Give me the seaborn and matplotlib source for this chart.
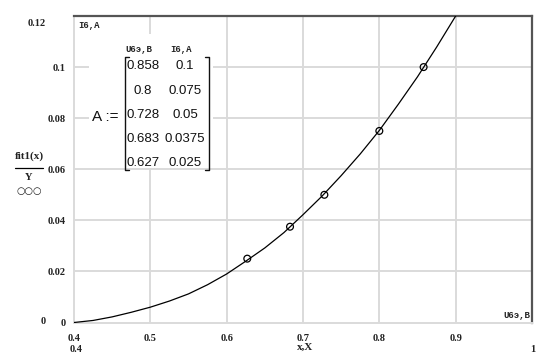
import matplotlib
matplotlib.use("Agg")
import matplotlib.pyplot as plt
import seaborn as sns
import pandas as pd
from matplotlib.patches import Rectangle

# Data points (matrix A)
U_vals = [0.858, 0.8, 0.728, 0.683, 0.627]
I_vals = [0.1, 0.075, 0.05, 0.0375, 0.025]
U_labels = ["0.858", "0.8", "0.728", "0.683", "0.627"]
I_labels = ["0.1", "0.075", "0.05", "0.0375", "0.025"]

# fit curve samples
fit_x = [0.4, 0.425, 0.45, 0.475, 0.5, 0.525, 0.55, 0.575, 0.6, 0.625, 0.65,
         0.675, 0.7, 0.725, 0.75, 0.775, 0.8, 0.825, 0.85, 0.875, 0.9, 0.92]
fit_y = [0.0, 0.0008, 0.0022, 0.0040, 0.0060, 0.0084, 0.0112, 0.0148, 0.0190,
         0.0240, 0.0292, 0.0352, 0.0422, 0.0495, 0.0575, 0.0660, 0.0752, 0.0855,
         0.0962, 0.1078, 0.1200, 0.1300]

x_ticks = [0.4, 0.5, 0.6, 0.7, 0.8, 0.9]
y_ticks = [0.0, 0.02, 0.04, 0.06, 0.08, 0.1]
x_tick_labels = ["0.4", "0.5", "0.6", "0.7", "0.8", "0.9"]
y_tick_labels = ["0", "0.02", "0.04", "0.06", "0.08", "0.1"]

sns.set_theme(style="white")
plt.rcParams['font.family'] = ['Liberation Serif', 'DejaVu Sans']

W, H = 554, 355
fig = plt.figure(figsize=(W / 100, H / 100), dpi=100)
L, R, T, B = 74, 532, 16, 322.5
ax = fig.add_axes([L / W, 1 - B / H, (R - L) / W, (B - T) / H])

ax.set_xlim(0.4, 1.0)
ax.set_ylim(0.0, 0.12)

grid_c = "#dadada"
for xv in x_ticks[1:]:
    ax.axvline(xv, color=grid_c, lw=1.4, zorder=0)
for yv in y_ticks[1:]:
    ax.axhline(yv, color=grid_c, lw=1.4, zorder=0)

# white box behind matrix
fig.patches.append(Rectangle((89 / W, 1 - 168 / H), (213 - 89) / W, (168 - 34) / H,
                             transform=fig.transFigure, facecolor="white",
                             edgecolor="none", zorder=1))

df_fit = pd.DataFrame({"x": fit_x, "y": fit_y})
df_pts = pd.DataFrame({"U": U_vals, "I": I_vals})
sns.lineplot(data=df_fit, x="x", y="y", ax=ax, color="black", lw=0.9, zorder=3)
sns.scatterplot(data=df_pts, x="U", y="I", ax=ax, marker="o", s=24,
                facecolor="none", edgecolor="black", linewidth=0.9, zorder=4)

ax.set_xticks(x_ticks)
ax.set_yticks(y_ticks)
ax.set_xticklabels(x_tick_labels, fontsize=7.5, fontweight="bold", color="#222")
ax.set_yticklabels(y_tick_labels, fontsize=7.5, fontweight="bold", color="#222")
ax.tick_params(axis="both", length=0)
ax.tick_params(axis="x", pad=8)
ax.tick_params(axis="y", pad=6)
ax.set_xlabel("")
ax.set_ylabel("")

for s in ["left", "bottom"]:
    ax.spines[s].set_color(grid_c)
    ax.spines[s].set_linewidth(1.4)
for s in ["top", "right"]:
    ax.spines[s].set_color("#555555")
    ax.spines[s].set_linewidth(1.6)


def ftext(px, py, s, **kw):
    fig.text(px / W, 1 - py / H, s, **kw)


lab = dict(fontsize=7.5, fontweight="bold", color="#222", va="center")
# axis limit labels
ftext(37, 24, "0.12", ha="center", **lab)
ftext(43, 321, "0", ha="center", **lab)
ftext(76, 349, "0.4", ha="center", **lab)
ftext(533, 349, "1", ha="center", **lab)
ftext(305, 347, "x,X", ha="center", fontsize=8, fontweight="bold", color="#222", va="center")

# y axis label
ftext(29, 156, "fit1(x)", ha="center", fontsize=8, fontweight="bold", color="#222", va="center")
fig.add_artist(plt.Line2D([15 / W, 43 / W], [1 - 168 / H, 1 - 168 / H],
                          transform=fig.transFigure, color="black", lw=0.9))
ftext(29, 178, "Y", ha="center", fontsize=7.5, fontweight="bold", color="#222", va="center")
ftext(29, 191, "○○○", ha="center", fontsize=7, color="#222", va="center",
      family=["DejaVu Sans"])

mono = dict(fontsize=6.5, fontweight="bold", color="#222", va="center",
            family=["Liberation Mono", "DejaVu Sans Mono"])
ftext(78, 26, "I6,A", ha="left", **mono)
ftext(530, 315, "U6э,B", ha="right", zorder=5, **mono)

# matrix
ftext(139, 50, "U6э,B", ha="center", **mono)
ftext(181, 50, "I6,A", ha="center", **mono)
ftext(105, 117, "A :=", ha="center", fontsize=11, color="#111", va="center",
      family=["Liberation Sans"], zorder=5)
rows_y = [66, 91, 115, 139, 163]
for yy, u, i in zip(rows_y, U_labels, I_labels):
    ftext(143, yy, u, ha="center", fontsize=9.5, color="#111", va="center",
          family=["Liberation Sans Narrow", "Liberation Sans"], zorder=5)
    ftext(185, yy, i, ha="center", fontsize=9.5, color="#111", va="center",
          family=["Liberation Sans Narrow", "Liberation Sans"], zorder=5)
# brackets
for xs, d in [(125, 1), (209, -1)]:
    xs_f = xs / W
    y0, y1 = 1 - 57 / H, 1 - 170 / H
    fig.add_artist(plt.Line2D([xs_f + d * 4 / W, xs_f, xs_f, xs_f + d * 4 / W],
                              [y0, y0, y1, y1], transform=fig.transFigure,
                              color="#111", lw=1.0, zorder=5))

fig.savefig("out.png", dpi=100)
